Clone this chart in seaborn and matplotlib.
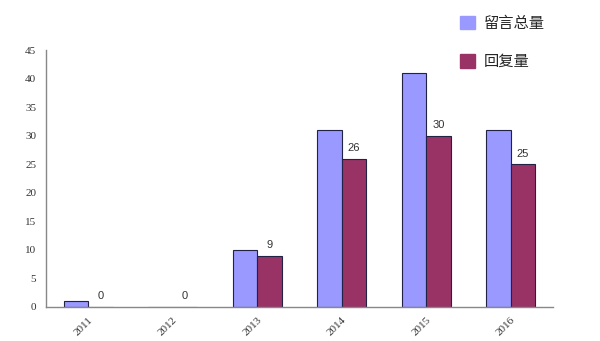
import matplotlib
matplotlib.use("Agg")
import matplotlib.pyplot as plt
import seaborn as sns
import pandas as pd
from matplotlib.patches import Patch
from matplotlib.ticker import FixedLocator, MultipleLocator

years = ["2011", "2012", "2013", "2014", "2015", "2016"]
total_msgs = [1, 0, 10, 31, 41, 31]
replies = [0, 0, 9, 26, 30, 25]
series_names = ["留言总量", "回复量"]
colors = ["#9999FF", "#993366"]

df = pd.DataFrame({
    "year": years * 2,
    "value": total_msgs + replies,
    "series": [series_names[0]] * len(years) + [series_names[1]] * len(years),
})

sns.set_style("white")
plt.rcParams["font.family"] = ["Noto Sans CJK SC", "DejaVu Sans"]

fig = plt.figure(figsize=(6.0, 3.41), dpi=100)
ax = fig.add_axes([46 / 600, 1 - 307 / 341, (553 - 46) / 600, (307 - 50) / 341])

sns.barplot(data=df, x="year", y="value", hue="series", palette=colors,
            saturation=1, width=0.58, gap=0, edgecolor="#222244", linewidth=0.8,
            legend=False, ax=ax)

ax.set_xlim(-0.5, len(years) - 0.5)
ax.set_ylim(0, 45)
ax.yaxis.set_major_locator(MultipleLocator(5))
ax.set_xlabel("")
ax.set_ylabel("")

for s in ["top", "right"]:
    ax.spines[s].set_visible(False)
for s in ["left", "bottom"]:
    ax.spines[s].set_color("#888888")
    ax.spines[s].set_linewidth(1.0)

# value labels above the reply bars
ax.bar_label(ax.containers[1], labels=[str(v) for v in replies], padding=4,
             fontsize=8, family="Liberation Sans", color="#333333")

# category separators on the x axis
ax.xaxis.set_minor_locator(FixedLocator([i + 0.5 for i in range(len(years))]))
ax.tick_params(axis="x", which="minor", direction="in", length=3, color="#888888", width=1)
ax.tick_params(axis="x", which="major", length=0, pad=6)
ax.tick_params(axis="y", which="major", direction="out", length=3, color="#888888",
               width=1, pad=4)
ax.set_xticks(range(len(years)))
ax.set_xticklabels(years, rotation=45, ha="right", rotation_mode="anchor",
                   family="Liberation Serif", fontsize=8, color="#333333")
for lbl in ax.get_yticklabels():
    lbl.set_family("Liberation Serif")
    lbl.set_fontsize(8)
    lbl.set_color("#333333")

handles = [Patch(facecolor=c, edgecolor=c, label=n) for c, n in zip(colors, series_names)]
fig.legend(handles=handles, loc="upper left", bbox_to_anchor=(446 / 600, 1 - 1 / 341),
           frameon=False, fontsize=11, handlelength=1.0, handleheight=1.0,
           handletextpad=0.6, labelspacing=1.4)

fig.savefig("out.png", dpi=100, facecolor="white")
